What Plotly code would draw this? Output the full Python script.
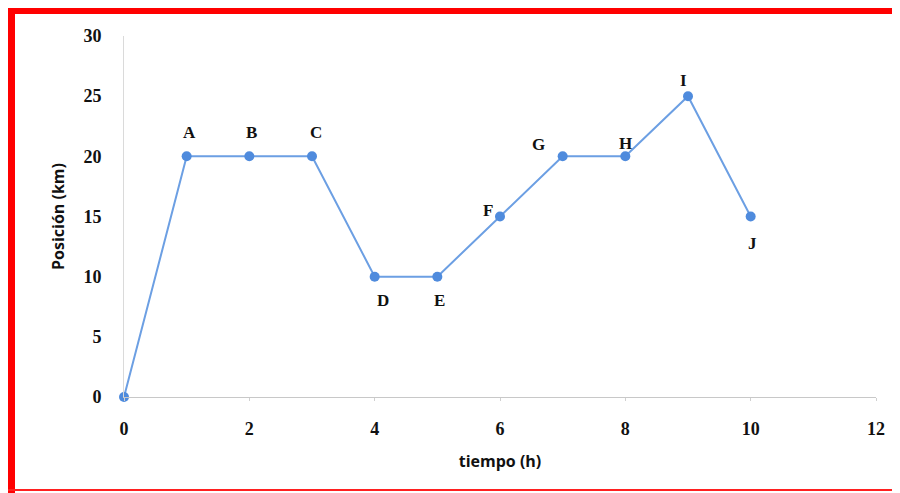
import plotly.graph_objects as go

# Data
tiempo = [0, 1, 2, 3, 4, 5, 6, 7, 8, 9, 10]
posicion = [0, 20, 20, 20, 10, 10, 15, 20, 20, 25, 15]
etiquetas = ["", "A", "B", "C", "D", "E", "F", "G", "H", "I", "J"]
x_ticks = [0, 2, 4, 6, 8, 10, 12]
y_ticks = [0, 5, 10, 15, 20, 25, 30]

# label pixel offsets (style only)
label_shift = [(0, 0), (3, 24), (2, 24), (4, 24), (8, -24), (2, -24),
               (-12, 6), (-24, 12), (0, 13), (-5, 16), (2, -27)]

# page has an 8px body margin; size the figure to fit the 900x493 window
OFF = 8
W, H = 900 - OFF, 493 - OFF
L, R, T, B = 124 - OFF, 24, 36 - OFF, 96
pw, ph = W - L - R, H - T - B

def px(xp):
    return (xp - OFF - L) / pw

def py(yp):
    return (H - B - (yp - OFF)) / ph

fig = go.Figure()
fig.add_trace(go.Scatter(
    x=tiempo, y=posicion, mode="lines+markers",
    line=dict(color="#6C9FE3", width=2),
    marker=dict(color="#4F8BDD", size=10),
    cliponaxis=False, hoverinfo="skip", showlegend=False,
))

for xv, yv, lab, (dx, dy) in zip(tiempo, posicion, etiquetas, label_shift):
    if not lab:
        continue
    fig.add_annotation(x=xv, y=yv, text=f"<b>{lab}</b>", showarrow=False,
                       xshift=dx, yshift=dy,
                       font=dict(family="Liberation Serif", size=17, color="#111111"))

serif = dict(family="Liberation Serif", size=18, color="#111111")
fig.update_layout(
    width=W, height=H,
    margin=dict(l=L, r=R, t=T, b=B),
    paper_bgcolor="white", plot_bgcolor="white",
    xaxis=dict(range=[0, 12], tickvals=x_ticks, ticktext=[f"<b>{v}</b>" for v in x_ticks],
               tickfont=serif, showgrid=False, zeroline=False,
               showline=True, linecolor="#C8C8C8", linewidth=1,
               ticks="outside", ticklen=3, tickcolor="#D0D0D0",
               ticklabelstandoff=12,
               title=dict(text="<b>tiempo (h)</b>", standoff=18,
                          font=dict(family="Open Sans", size=16, color="#111111"))),
    yaxis=dict(range=[0, 30], tickvals=y_ticks, ticktext=[f"<b>{v}</b>" for v in y_ticks],
               tickfont=serif, showgrid=False, zeroline=False,
               showline=True, linecolor="#DADADA", linewidth=1,
               ticks="", ticklabelstandoff=18,
               title=dict(text="<b>Posición (km)</b>", standoff=14,
                          font=dict(family="Open Sans", size=16, color="#111111"))),
    shapes=[
        dict(type="rect", xref="paper", yref="paper", x0=px(8), x1=px(900), y0=py(8), y1=py(14),
             fillcolor="#FF0000", line=dict(width=0), layer="above"),
        dict(type="rect", xref="paper", yref="paper", x0=px(8), x1=px(15), y0=py(8), y1=py(493),
             fillcolor="#FF0000", line=dict(width=0), layer="above"),
        dict(type="rect", xref="paper", yref="paper", x0=px(8), x1=px(900), y0=py(489), y1=py(491),
             fillcolor="#FF2020", line=dict(width=0), layer="above"),
    ],
)

fig.write_html("out.html")
